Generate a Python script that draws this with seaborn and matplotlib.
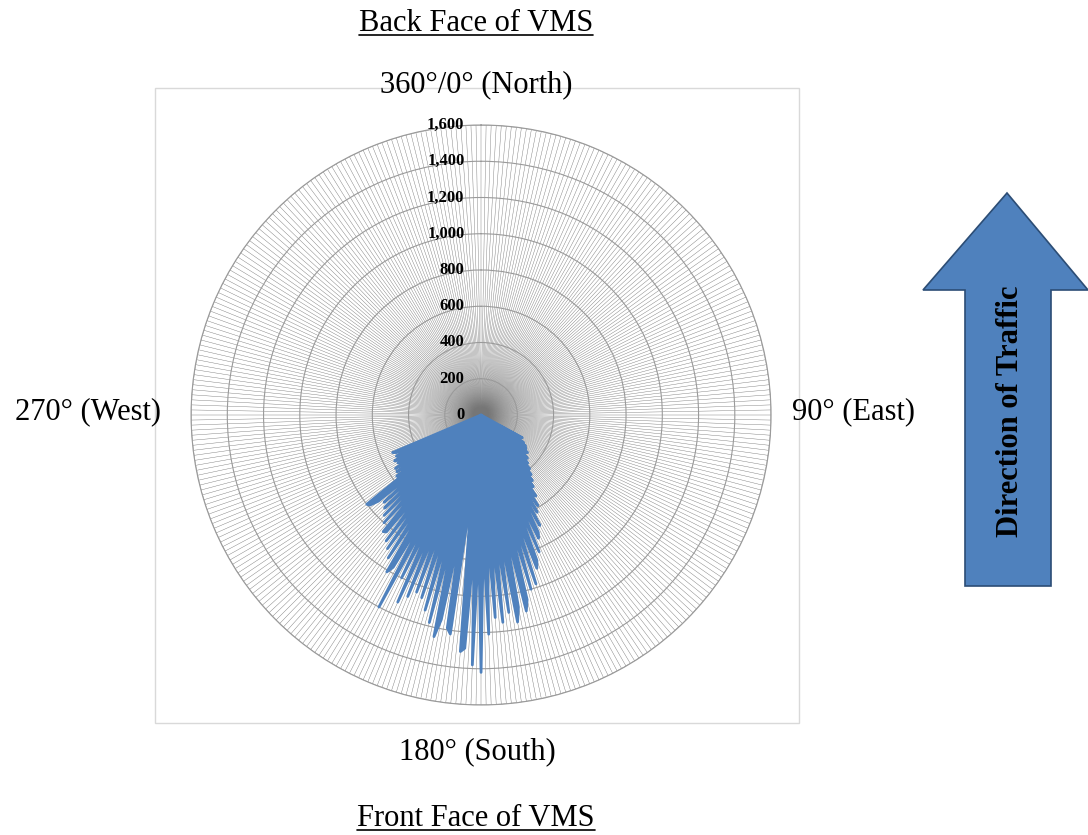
import numpy as np
import matplotlib
matplotlib.use("Agg")
import matplotlib.pyplot as plt
import matplotlib.transforms as mtransforms
from matplotlib.patches import Polygon, Rectangle
from matplotlib.lines import Line2D
import seaborn as sns

# Data: count per direction (1 degree bins, compass degrees, clockwise from north)
directions = list(range(360))
sector_counts = [
    260, 120, 250, 150, 280, 170, 300, 190, 310, 200,      # 119-128
    330, 210, 320, 220, 350, 230, 340, 370, 240, 400,      # 129-138
    260, 430, 280, 460, 300, 490, 320, 540, 350, 590,      # 139-148
    380, 620, 400, 690, 430, 720, 750, 460, 820, 480,      # 149-158
    860, 900, 520, 980, 560, 1000, 580, 1050, 1110, 600,   # 159-168
    1080, 1160, 620, 1100, 640, 1150, 660, 1120, 650, 1210,    # 169-178
    700, 1420, 720, 1380, 700, 1290, 1310, 650, 420, 1220,     # 179-188
    1190, 650, 1150, 1250, 680, 1180, 640, 1120, 620, 1060,    # 189-198
    600, 1040, 620, 1080, 640, 1130, 620, 1000, 600, 1200,     # 199-208
    620, 970, 1010, 560, 940, 540, 900, 520, 870, 500,     # 209-218
    830, 840, 480, 800, 460, 770, 450, 740, 440, 720,      # 219-228
    430, 740, 790, 800, 430, 575, 400, 560, 390, 557,      # 229-238
    380, 530, 370, 540, 380, 520, 370, 510, 530,           # 239-247
]
counts = [0] * 119 + sector_counts + [0] * 112
assert len(counts) == len(directions)

r_ticks = [0, 200, 400, 600, 800, 1000, 1200, 1400, 1600]
r_labels = ["0", "200", "400", "600", "800", "1,000", "1,200", "1,400", "1,600"]

sns.set_style("white")
plt.rcParams['font.family'] = ['Liberation Serif', 'DejaVu Serif']
plt.rcParams['text.color'] = 'black'

fig = plt.figure(figsize=(10.88, 8.35), dpi=100)

# light frame around the chart area
fig.add_artist(Rectangle((155 / 1088, 1 - 723 / 835), 644 / 1088, 635 / 835,
                         transform=fig.transFigure, fill=False,
                         edgecolor='#d9d9d9', lw=1))

ax = fig.add_axes([0.1756, 0.1557, 0.5331, 0.6946], projection='polar')
ax.set_theta_zero_location('N')
ax.set_theta_direction(-1)

theta = np.deg2rad(directions + [directions[0]])
values = counts + [counts[0]]

blue = '#4f81bd'
ax.fill(theta, values, color=blue, zorder=3, lw=0)
sns.lineplot(x=theta, y=values, sort=False, color=blue, lw=2.0, ax=ax,
             zorder=4, estimator=None, solid_joinstyle='round')

ax.set_ylim(0, 1600)
ax.set_xticks(np.deg2rad(directions))
ax.set_xticklabels([])
ax.set_yticks(r_ticks)
ax.set_yticklabels([])
ax.xaxis.grid(True, color='#767676', lw=0.3)
ax.yaxis.grid(True, color='#9a9a9a', lw=0.8)
ax.spines['polar'].set_color('#9a9a9a')
ax.spines['polar'].set_linewidth(0.8)
ax.tick_params(length=0)

offset = mtransforms.offset_copy(ax.transData, fig=fig, x=-12, y=0, units='points')
for r, lab in zip(r_ticks, r_labels):
    ax.text(0, r, lab, transform=offset, ha='right', va='center',
            fontsize=12, fontweight='bold', zorder=5)

fs = 22
fig.text(476 / 1088, 1 - 31 / 835, "Back Face of VMS", ha='center', va='baseline', fontsize=fs)
fig.text(476 / 1088, 1 - 826 / 835, "Front Face of VMS", ha='center', va='baseline', fontsize=fs)
fig.text(476 / 1088, 1 - 85 / 835, "360°/0° (North)", ha='center', va='center', fontsize=fs)
fig.text(88 / 1088, 1 - 412 / 835, "270° (West)", ha='center', va='center', fontsize=fs)
fig.text(854 / 1088, 1 - 412 / 835, "90° (East)", ha='center', va='center', fontsize=fs)
fig.text(477 / 1088, 1 - 752 / 835, "180° (South)", ha='center', va='center', fontsize=fs)

# underlines for the face labels
fig.canvas.draw()
renderer = fig.canvas.get_renderer()
for t, base in zip(fig.texts[:2], [31, 826]):
    bb = t.get_window_extent(renderer)
    y = 1 - (base + 4) / 835
    fig.add_artist(Line2D([bb.x0 / 1088, bb.x1 / 1088], [y, y],
                          transform=fig.transFigure, color='black', lw=1.2))

# direction of traffic arrow
arrow_px = [(1007, 193), (1088, 290), (1051, 290), (1051, 586),
            (965, 586), (965, 290), (923, 290)]
arrow_pts = [(x / 1088, 1 - y / 835) for x, y in arrow_px]
fig.add_artist(Polygon(arrow_pts, closed=True, transform=fig.transFigure,
                       facecolor=blue, edgecolor='#2c4d75', lw=1.2))
fig.text(1010 / 1088, 1 - 411 / 835, "Direction of Traffic", rotation=90,
         ha='center', va='center', fontsize=fs, fontweight='bold')

fig.savefig("out.png", dpi=100)
